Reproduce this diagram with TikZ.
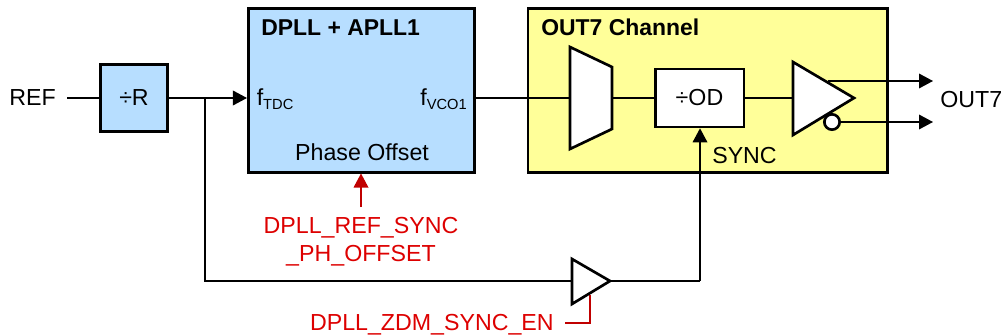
\documentclass[tikz,border=0pt]{standalone}
\usepackage{fontspec}
\setmainfont{Liberation Sans}
\usetikzlibrary{arrows.meta}
\definecolor{pllblue}{HTML}{B7DEFF}
\definecolor{chanyellow}{HTML}{FFFF99}
\definecolor{ctrlred}{HTML}{C00000}
\definecolor{ctrltext}{HTML}{DD0000}
\newcommand{\fsub}[1]{f\raisebox{-3pt}{\fontsize{11}{13}\selectfont #1}}
\tikzset{
  block/.style={draw,line width=2pt,inner sep=0pt},
  lbl/.style={font=\fontsize{17.4}{20}\selectfont,inner sep=0pt},
  ttl/.style={lbl,font=\fontsize{17.2}{20}\selectfont\bfseries},
  ctrl/.style={lbl,text=ctrltext},
  gate/.style={draw,line width=2pt,line join=miter,fill=white},
  wire/.style={line width=1pt},
  ctrlwire/.style={line width=1pt,draw=ctrlred}
}
\begin{document}
\begin{tikzpicture}[x=0.75pt,y=-0.75pt,>={Triangle[length=10.5pt,width=11pt]}]
  \useasboundingbox (0,0) rectangle (1002,335);

  % blocs
  \node[block,fill=pllblue,minimum width=50pt,minimum height=50pt] (divr) at (134,98) {};
  \node[lbl,anchor=base] (divrtxt) at (134,105) {÷R};
  \node[block,fill=pllblue,minimum width=169.5pt,minimum height=122.5pt] (pll) at (361.3,90.5) {};
  \node[block,fill=chanyellow,minimum width=269.5pt,minimum height=122.5pt] (chan) at (707.8,90.5) {};
  \node[ttl,anchor=base west] (plltitle) at (261,36) {DPLL + APLL1};
  \node[ttl,anchor=base west] (chantitle) at (541,36) {OUT7 Channel};
  \node[lbl,anchor=base west] (ftdc) at (256.5,105) {\fsub{TDC}};
  \node[lbl,anchor=base east] (fvco) at (467,105) {\fsub{VCO1}};
  \node[lbl,anchor=base] (phase) at (362,160) {Phase Offset};
  \node[lbl,anchor=base east] (ref) at (56,105.5) {REF};
  \node[lbl,anchor=base west] (outlbl) at (940,107.5) {OUT7};
  \node[lbl,anchor=base west] (sync) at (712,163.5) {SYNC};

  % points de raccord
  \coordinate (refend) at (67,98);
  \coordinate (branch) at (205,98);
  \coordinate (corner) at (205,281);
  \coordinate (muxin) at (570,98);
  \coordinate (muxout) at (612,98);
  \coordinate (bufin) at (793,98);
  \coordinate (smallin) at (572,281);
  \coordinate (smallout) at (610,281);
  \coordinate (syncup) at (700,281);
  \coordinate (outp) at (933,81);
  \coordinate (outpst) at (828,81);
  \coordinate (outn) at (933,122);
  \coordinate (phin) at (361,207);
  \coordinate (enst) at (565,323);
  \coordinate (enbend) at (590,323);
  \coordinate (enend) at (590,295);

  % liaisons
  \draw[wire] (refend) -- (divr.west);
  \draw[wire,->] (divr.east) -- (pll.west |- divr);
  \draw[wire] (branch) -- (corner) -- (smallin);
  \draw[wire] (pll.east |- muxin) -- (muxin);
  \draw[ctrlwire] (enst) -- (enbend) -- (enend);
  \draw[ctrlwire,->,ctrlred] (phin) -- (pll.south -| phin);

  % mux, diviseur, tampons
  \draw[gate] (570,47) -- (612,67) -- (612,129) -- (570,149) -- cycle;
  \node[block,fill=white,minimum width=66.5pt,minimum height=43.5pt] (divod) at (699.5,98) {};
  \node[lbl,anchor=base] (divodtxt) at (699.5,105) {÷OD};
  \draw[wire] (muxout) -- (divod.west);
  \draw[wire] (divod.east) -- (bufin);
  \draw[wire,->] (outpst) -- (outp);
  \draw[gate] (793,62) -- (854,98) -- (793,135) -- cycle;
  \node[draw,fill=white,circle,line width=2pt,minimum size=11.5pt,inner sep=0pt] (bubble) at (832,122) {};
  \draw[wire,->] (bubble) -- (outn);
  \draw[gate] (572,259) -- (610,281) -- (572,304) -- cycle;
  \draw[wire] (smallout) -- (syncup);
  \draw[wire,->] (syncup) -- (divod.south -| syncup);

  % textes rouges
  \node[ctrl,anchor=base] (refsync) at (361,233) {DPLL\_REF\_SYNC};
  \node[ctrl,anchor=base] (phoffset) at (361,261) {\_PH\_OFFSET};
  \node[ctrl,anchor=base east] (zdm) at (554,330) {DPLL\_ZDM\_SYNC\_EN};
\end{tikzpicture}
\end{document}
